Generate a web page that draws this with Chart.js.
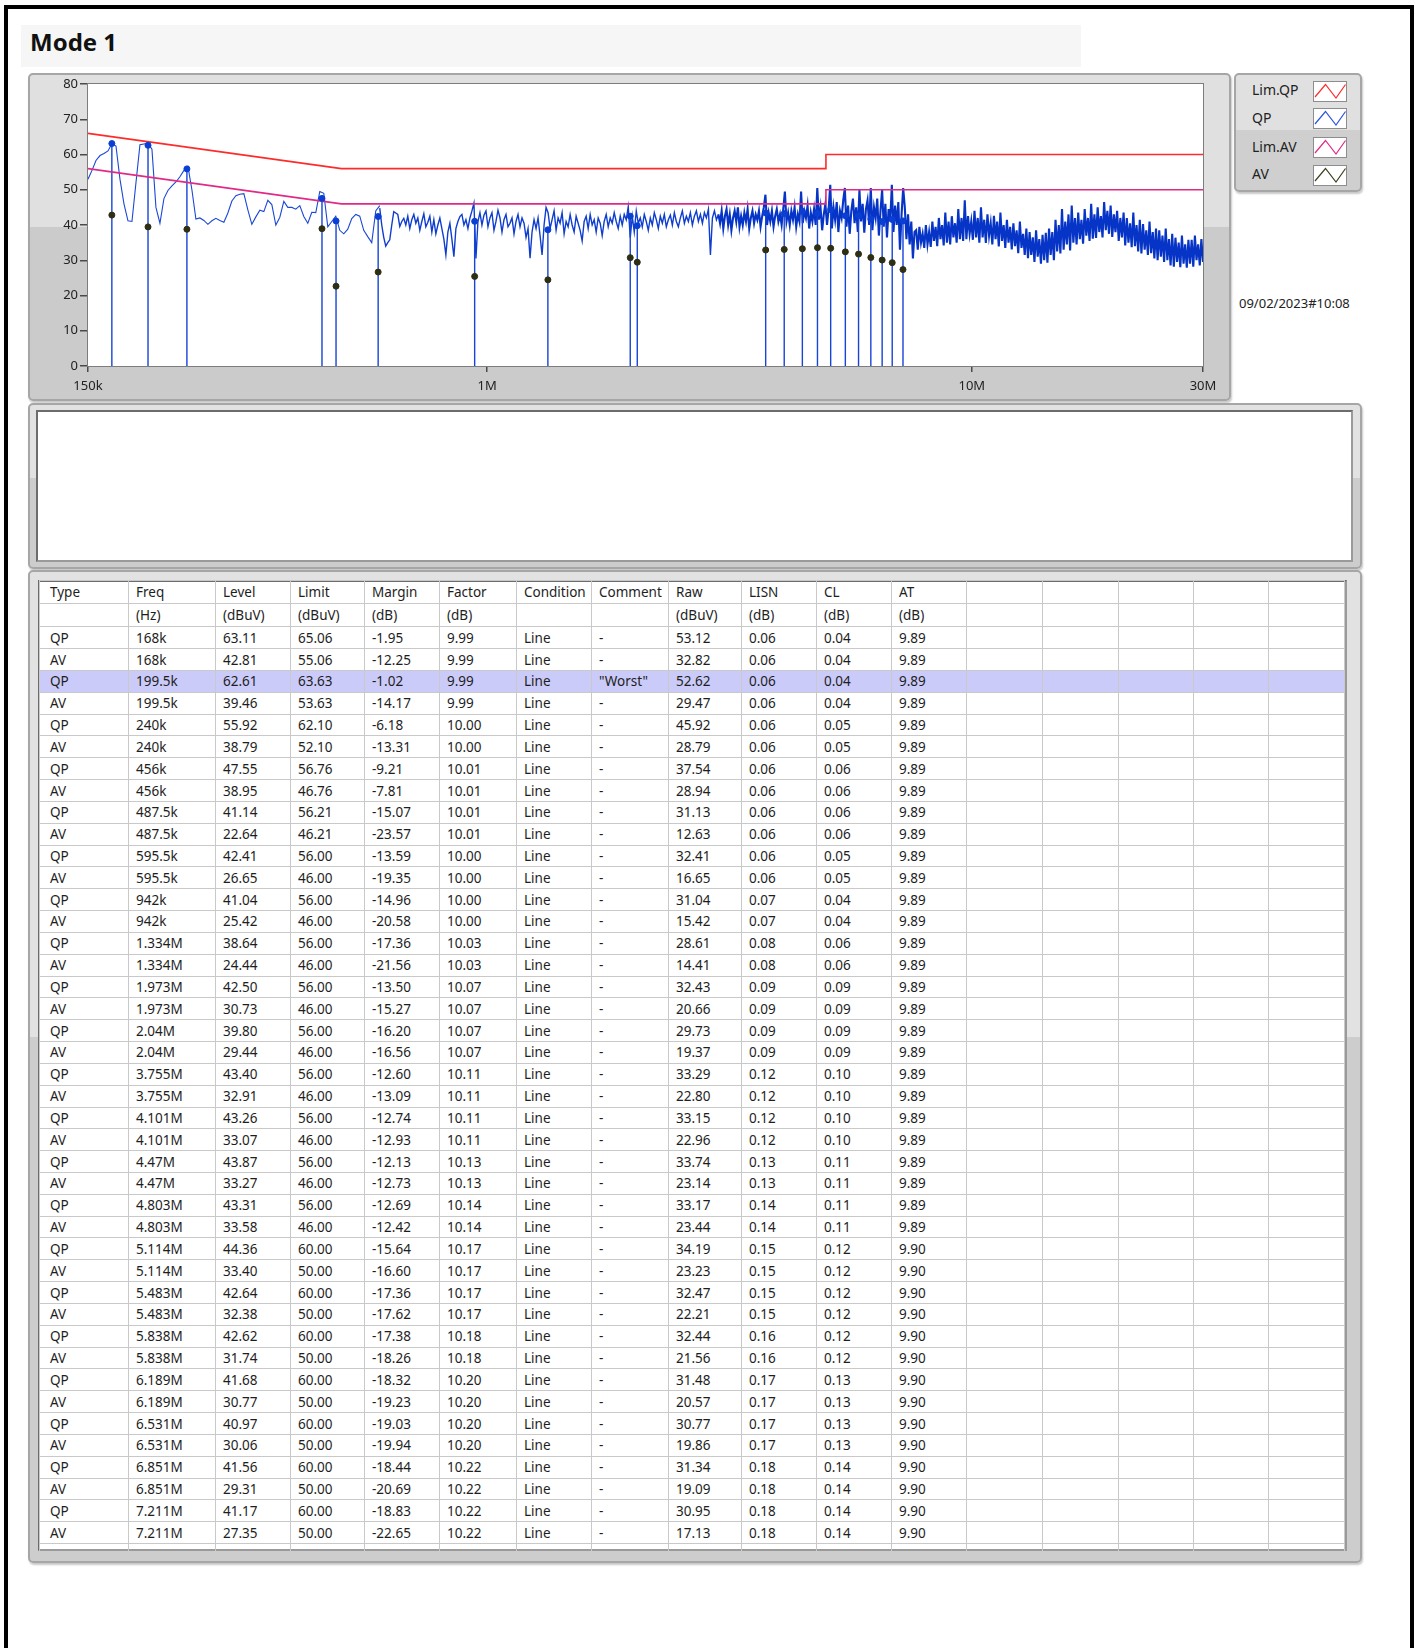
<!DOCTYPE html>
<html>
<head>
<meta charset="utf-8">
<script src="https://cdn.jsdelivr.net/npm/chart.js@4.4.1/dist/chart.umd.min.js"></script>
<style>
  html, body { margin: 0; padding: 0; background: #fff; }
  body { width: 1415px; height: 1648px; position: relative; overflow: hidden; font-family: "Noto Sans", "Open Sans", sans-serif; color: #1e1e1e; }
  .frame { position: absolute; left: 4px; top: 5px; width: 1402px; height: 1700px; border-left: 4px solid #000; border-top: 4px solid #000; border-right: 4px solid #000; }
  .titlebar { position: absolute; left: 21px; top: 25px; width: 1060px; height: 42px; background: #f6f6f6; }
  .title { position: absolute; left: 30px; top: 30px; font-size: 24px; line-height: 24px; font-weight: 700; color: #111; }
  .panel { position: absolute; box-sizing: border-box; border: 2px solid #a6a6a6; border-radius: 5px;
           box-shadow: 1px 2px 2px rgba(0,0,0,0.22); }
  .inset { position: absolute; box-sizing: border-box; background: #fff; border: 2px solid #6c6c6c; border-right-color: #9a9a9a; border-bottom-color: #9a9a9a; }
  #chartCanvas { position: absolute; left: 29px; top: 74px; }
  .legend-row { position: absolute; left: 1252px; font-size: 14px; line-height: 14px; color: #222; }
  .legend-icon { position: absolute; left: 1313px; width: 34px; height: 21px; }
  .stamp { position: absolute; left: 1239px; top: 295px; font-size: 13px; line-height: 16px; color: #222; }
  .tablebox { position: absolute; left: 38px; top: 580px; width: 1309px; height: 971px; overflow: hidden; }
  table { border-collapse: collapse; table-layout: fixed; font-size: 13.5px; color: #1e1e1e; }
  td { border: 1px solid #c9c9c9; padding: 0 0 0 7px; white-space: nowrap; overflow: hidden; vertical-align: middle; line-height: 14px; }
  td:first-child { padding-left: 10px; }
  tr.worst td { background: #cbcbf9; }
</style>
</head>
<body>
<div class="frame"></div>
<div class="titlebar"></div>
<div class="title">Mode 1</div>

<!-- spectrum panel -->
<div class="panel" style="left:28px; top:73px; width:1203px; height:328px; background: linear-gradient(#e0e0e0 0 47%, #cbcbcb 47% 100%);"></div>
<canvas id="chartCanvas" width="1201" height="326"></canvas>

<!-- legend panel -->
<div class="panel" id="legendPanel" style="left:1234px; top:73px; width:128px; height:119px; background: linear-gradient(#e0e0e0 0 48%, #cfcfcf 48% 100%);"></div>
<div id="legendItems"></div>
<div class="stamp" id="stamp"></div>

<!-- empty note panel -->
<div class="panel" style="left:28px; top:403px; width:1334px; height:166px; background: linear-gradient(#e2e2e2 0 45%, #cdcdcd 45% 100%);"></div>
<div class="inset" style="left:36px; top:410px; width:1317px; height:152px;"></div>

<!-- results table panel -->
<div class="panel" style="left:28px; top:570px; width:1334px; height:993px; background: linear-gradient(#e2e2e2 0 47%, #cdcdcd 47% 100%);"></div>
<div class="inset" style="left:38px; top:580px; width:1309px; height:971px;"></div>
<div class="tablebox"><table id="results"></table></div>

<script>
// ---- scan limits (CISPR class B, conducted) ----
const limitFreqHz = [150000, 500000, 5000000, 5000000, 30000000];
const limitQP = [66, 56, 56, 60, 60];
const limitAV = [56, 46, 46, 50, 50];

// ---- axis ticks ----
const xTickValues = [150000, 1000000, 10000000, 30000000];
const xTickLabels = ['150k', '1M', '10M', '30M'];
const yTickMin = 0, yTickMax = 80, yTickStep = 10;

// ---- peak scan, three sweep bands (start/stop Hz), levels in dBuV ----
const scanBandEdges = [150000, 600000, 3000000, 30000000];
const scanLowLevels = [
  53, 55.5, 58.3, 59.7, 60.3, 61, 63.1, 62.4, 53, 46,
  41.2, 41, 52, 62.8, 63, 63.2, 61.5, 45, 40.5, 47.5,
  49.8, 51.1, 52.2, 53.7, 55.5, 56.6, 50, 41.7, 42, 41.3,
  40.2, 41.2, 41.9, 41.3, 40.8, 43.4, 46.8, 48.3, 48.7, 48.9,
  44.3, 40.2, 42.3, 44.2, 43.8, 47, 45.8, 40, 42.2, 46.7,
  45, 45, 44.5, 45.5, 42.4, 40.5, 43.6, 43.5, 49.5, 49,
  39.5, 41, 42.5, 38.5, 37.5, 38.8, 41.8, 43, 42.5, 38.5,
  36.7, 35, 44, 45.5
];
const scanMidLevels = [
  44.8, 40, 36.5, 34, 35, 35.8, 40, 43.8,
  43.4, 43, 39.6, 41, 41.9, 40, 42.5, 39, 41.5, 43, 40.5, 42,
  38.5, 41, 43.2, 39.5, 40.8, 42.5, 38, 41.5, 37.5, 40, 42, 39, 36,
  31.5, 38, 40.5, 36, 31, 39, 41, 42.4,
  43, 40, 41.5, 39, 42, 44, 46.2,
  30.5, 41, 43.5, 40, 42.8, 44, 39.5, 42, 43.5, 38.5, 41, 44.2,
  42, 38, 41.5, 43, 39.5, 40.5, 42, 37.5, 41, 43, 39.5, 42, 40.5, 36.5, 39,
  30.6, 38, 41.5, 39, 42, 37, 31.5, 40, 45,
  43.5, 39, 41.5, 44, 38.5, 42, 40.5, 43.5, 37.5, 41, 39.5, 43, 40, 38, 42.5, 40.5,
  38.5, 35.5, 41, 42.5, 39, 43, 40, 41.5, 38, 42,
  40.5, 37, 41, 43, 39.5, 42, 40.5, 43.5, 41, 39, 42.5, 40, 43, 41.5, 45.2,
  36.4, 42.5, 38, 44, 40.5, 42, 39.5, 43, 41, 38.5, 42, 40, 43.5, 41.5, 39,
  42.5, 40.5, 43, 39.5, 41.5, 42.8, 40, 43.5, 41, 39.5, 42, 44, 40.5, 42.5, 41,
  43.5, 40, 42.5, 44, 41, 43, 40.5, 43.5, 42, 44.5, 31.5, 42, 44, 41.5, 43
];
const scanHighLevels = [
  43, 40.5, 44, 39, 42.5, 44.5, 40, 43, 38.5, 42, 44, 41, 45, 39.5, 42.5,
  40, 43.5, 41, 44.5, 39, 42, 44, 40.5, 43, 41.5, 44, 39.5, 42.5, 45, 48.6,
  40, 43.5, 41, 44, 39.5, 42.5, 44.5, 41, 43, 40, 44.5, 49.5, 41, 43.5,
  40, 44, 41.5, 45, 39.5, 43, 41, 49.5, 40.5, 44, 42, 45.5, 39, 43.5, 41, 44.5,
  40, 50.5, 41.5, 45, 38.5, 43, 46, 40, 44.5, 51.4, 39, 45, 41.5, 46.5, 38, 44,
  42, 47, 50.5, 39.5, 45.5, 37.5, 44, 47.5, 40.5, 45, 38, 50, 41, 46, 37.8, 44.5,
  47, 40, 50.5, 38.5, 45, 42, 47.5, 37, 44, 50, 39.5, 46, 36.5, 44.5, 41, 51.4,
  38, 45.5, 40, 46.5, 33, 43, 50.5,
  45, 36, 43, 34.5, 41, 30.5, 38,
  38.5, 33, 39.5, 35, 37.5, 33.5, 40, 34.5, 38, 33.8,
  41, 35.5, 39.5, 34, 42, 36, 40, 34.2, 43.5, 35,
  41, 34.5, 42.5, 36.5, 40.5, 35, 44.5, 36, 42, 35.5,
  47, 36, 42.5, 37.5, 41, 35.8, 44, 36.5, 42, 35,
  45, 36.5, 41.5, 34.9, 43, 37, 40.5, 34.5, 42.6, 36,
  41, 33.9, 43.5, 35.5, 40, 33.5, 41.5, 35, 39.5, 33.1,
  40.5, 34, 38.5, 32, 41, 33.5, 37.5, 31.5, 39, 30.6,
  38, 31.5, 36.5, 29.5, 38.5, 31, 36, 29, 37.2, 30,
  37.8, 29.3, 39, 31.5, 38, 30, 41.5, 32.5, 40, 31.9,
  44.5, 33, 41, 34.5, 43, 32.8, 45.5, 35, 42, 34.5,
  43.5, 36, 41.5, 34.7, 44.5, 37, 42, 35.5, 46, 36.1,
  43, 36.3, 45, 38, 42.5, 36.5, 46.5, 38.5, 44, 37.5,
  45.5, 36.6, 43, 38, 44, 35.5, 42, 36.5, 43.5, 34.2,
  42, 35, 40.5, 33.7, 43.5, 34, 40, 32.5, 41.5, 31.9,
  40.3, 33, 38.5, 31.5, 41, 32, 38, 30.5, 39, 30,
  38.5, 31, 37, 29.5, 39, 30, 36, 28.5, 37.5, 28.2,
  36.4, 29.5, 35, 28, 37, 29, 34.5, 27.9, 35.8, 29,
  35.8, 28.2, 37, 30, 34.5, 28.5, 36, 29.5
];

// ---- final measurements ----
const freqLabels = ['168k','199.5k','240k','456k','487.5k','595.5k','942k','1.334M','1.973M','2.04M','3.755M','4.101M','4.47M','4.803M','5.114M','5.483M','5.838M','6.189M','6.531M','6.851M','7.211M'];
const qpLevel  = [63.11,62.61,55.92,47.55,41.14,42.41,41.04,38.64,42.50,39.80,43.40,43.26,43.87,43.31,44.36,42.64,42.62,41.68,40.97,41.56,41.17];
const qpLimit  = [65.06,63.63,62.10,56.76,56.21,56.00,56.00,56.00,56.00,56.00,56.00,56.00,56.00,56.00,60.00,60.00,60.00,60.00,60.00,60.00,60.00];
const qpMargin = [-1.95,-1.02,-6.18,-9.21,-15.07,-13.59,-14.96,-17.36,-13.50,-16.20,-12.60,-12.74,-12.13,-12.69,-15.64,-17.36,-17.38,-18.32,-19.03,-18.44,-18.83];
const qpRaw    = [53.12,52.62,45.92,37.54,31.13,32.41,31.04,28.61,32.43,29.73,33.29,33.15,33.74,33.17,34.19,32.47,32.44,31.48,30.77,31.34,30.95];
const avLevel  = [42.81,39.46,38.79,38.95,22.64,26.65,25.42,24.44,30.73,29.44,32.91,33.07,33.27,33.58,33.40,32.38,31.74,30.77,30.06,29.31,27.35];
const avLimit  = [55.06,53.63,52.10,46.76,46.21,46.00,46.00,46.00,46.00,46.00,46.00,46.00,46.00,46.00,50.00,50.00,50.00,50.00,50.00,50.00,50.00];
const avMargin = [-12.25,-14.17,-13.31,-7.81,-23.57,-19.35,-20.58,-21.56,-15.27,-16.56,-13.09,-12.93,-12.73,-12.42,-16.60,-17.62,-18.26,-19.23,-19.94,-20.69,-22.65];
const avRaw    = [32.82,29.47,28.79,28.94,12.63,16.65,15.42,14.41,20.66,19.37,22.80,22.96,23.14,23.44,23.23,22.21,21.56,20.57,19.86,19.09,17.13];
const factor   = [9.99,9.99,10.00,10.01,10.01,10.00,10.00,10.03,10.07,10.07,10.11,10.11,10.13,10.14,10.17,10.17,10.18,10.20,10.20,10.22,10.22];
const lisn     = [0.06,0.06,0.06,0.06,0.06,0.06,0.07,0.08,0.09,0.09,0.12,0.12,0.13,0.14,0.15,0.15,0.16,0.17,0.17,0.18,0.18];
const cableLoss= [0.04,0.04,0.05,0.06,0.06,0.05,0.04,0.06,0.09,0.09,0.10,0.10,0.11,0.11,0.12,0.12,0.12,0.13,0.13,0.14,0.14];
const attenuator=[9.89,9.89,9.89,9.89,9.89,9.89,9.89,9.89,9.89,9.89,9.89,9.89,9.89,9.89,9.90,9.90,9.90,9.90,9.90,9.90,9.90];
const worstIndex = 1;

const legendNames = ['Lim.QP', 'QP', 'Lim.AV', 'AV'];
const legendColors = ['#ff2a2a', '#2a55e0', '#e02a86', '#3f4020'];
const stampText = '09/02/2023#10:08';

const headerNames = ['Type','Freq','Level','Limit','Margin','Factor','Condition','Comment','Raw','LISN','CL','AT'];
const headerUnits = ['','(Hz)','(dBuV)','(dBuV)','(dB)','(dB)','','','(dBuV)','(dB)','(dB)','(dB)'];

// ---------------------------------------------------------------
function parseFreq(label) {
  const mult = label.endsWith('M') ? 1e6 : 1e3;
  return parseFloat(label) * mult;
}
// receiver sweep: points evenly spaced in log frequency over a band
function sweep(fStart, fStop, levels) {
  const n = levels.length;
  return levels.map((v, i) => ({ x: fStart * Math.pow(fStop / fStart, i / (n - 1)), y: v }));
}

const scanLowPoints = sweep(scanBandEdges[0], scanBandEdges[1], scanLowLevels);
const scanMidPoints = sweep(scanBandEdges[1], scanBandEdges[2], scanMidLevels);
const scanHighPoints = sweep(scanBandEdges[2], scanBandEdges[3], scanHighLevels);
const markFreq = freqLabels.map(parseFreq);
const impulsePoints = [];
markFreq.forEach((f, i) => {
  impulsePoints.push({ x: f, y: 0 }, { x: f, y: qpLevel[i] }, { x: f, y: null });
});
const qpPoints = markFreq.map((f, i) => ({ x: f, y: qpLevel[i] }));
const avPoints = markFreq.map((f, i) => ({ x: f, y: avLevel[i] }));
const limQPPoints = limitFreqHz.map((f, i) => ({ x: f, y: limitQP[i] }));
const limAVPoints = limitFreqHz.map((f, i) => ({ x: f, y: limitAV[i] }));

const plotFrame = {
  id: 'plotFrame',
  beforeDatasetsDraw(chart) {
    const { ctx, chartArea: a } = chart;
    ctx.save();
    ctx.fillStyle = '#ffffff';
    ctx.fillRect(a.left, a.top, a.width, a.height);
    ctx.restore();
  },
  afterDraw(chart) {
    const { ctx, chartArea: a } = chart;
    ctx.save();
    ctx.strokeStyle = '#7d7d7d';
    ctx.lineWidth = 1;
    ctx.strokeRect(a.left - 0.5, a.top - 0.5, a.width + 1, a.height + 1);
    ctx.restore();
  }
};

const gridFont = { family: '"Noto Sans", "Open Sans", sans-serif', size: 13 };

new Chart(document.getElementById('chartCanvas').getContext('2d'), {
  type: 'line',
  data: {
    datasets: [
      { label: 'Lim.QP', data: limQPPoints, borderColor: legendColors[0], borderWidth: 1.6, pointRadius: 0, order: 3 },
      { label: 'Lim.AV', data: limAVPoints, borderColor: legendColors[2], borderWidth: 1.6, pointRadius: 0, order: 3 },
      { label: 'QP', data: scanLowPoints, borderColor: '#1a48d4', borderWidth: 1.1, pointRadius: 0, order: 6 },
      { label: 'QP', data: scanMidPoints, borderColor: '#0f3ece', borderWidth: 1.4, pointRadius: 0, order: 6 },
      { label: 'QP', data: scanHighPoints, borderColor: '#0634c6', borderWidth: 2.1, pointRadius: 0, order: 6 },
      { label: 'QP marks', data: impulsePoints, borderColor: '#1745d6', borderWidth: 1.4, pointRadius: 0, spanGaps: false, order: 4 },
      { label: 'QP final', type: 'scatter', data: qpPoints, showLine: false, pointRadius: 3, pointBackgroundColor: '#0b3fd4', pointBorderColor: '#0b3fd4', order: 2 },
      { label: 'AV final', type: 'scatter', data: avPoints, showLine: false, pointRadius: 3, pointBackgroundColor: '#2e2e12', pointBorderColor: '#2e2e12', order: 1 }
    ]
  },
  options: {
    responsive: false,
    animation: false,
    devicePixelRatio: 1,
    layout: { padding: { top: 10, right: 27, left: 0, bottom: 0 } },
    plugins: { legend: { display: false }, tooltip: { enabled: false } },
    elements: { line: { tension: 0 } },
    scales: {
      x: {
        type: 'logarithmic',
        min: xTickValues[0],
        max: xTickValues[xTickValues.length - 1],
        afterBuildTicks(axis) { axis.ticks = xTickValues.map(v => ({ value: v })); },
        afterFit(axis) { axis.height = 34; },
        ticks: {
          autoSkip: false, maxRotation: 0, padding: 6, color: '#222', font: gridFont,
          callback(value, index) { return xTickLabels[index]; }
        },
        grid: { color: '#dcdcdc', lineWidth: 1.5, tickColor: '#4a4a4a', tickLength: 6, drawTicks: true },
        border: { display: true, color: '#7d7d7d', width: 1 }
      },
      y: {
        min: yTickMin, max: yTickMax,
        afterFit(axis) { axis.width = 59; },
        ticks: { stepSize: yTickStep, padding: 2, color: '#222', font: gridFont },
        grid: { color: '#dcdcdc', lineWidth: 1.5, tickColor: '#4a4a4a', tickLength: 8, drawTicks: true },
        border: { display: true, color: '#7d7d7d', width: 1 }
      }
    }
  },
  plugins: [plotFrame]
});

// ---- legend ----
const legendTops = [83, 111, 140, 167];
const iconTops = [81, 108, 137, 165];
let legendHtml = '';
legendNames.forEach((name, i) => {
  legendHtml += '<div class="legend-row" style="top:' + legendTops[i] + 'px">' + name + '</div>';
  legendHtml += '<svg class="legend-icon" style="top:' + iconTops[i] + 'px" viewBox="0 0 34 21">' +
    '<rect x="0.5" y="0.5" width="33" height="20" fill="#fff" stroke="#8d8d8d"/>' +
    '<polyline points="2,16 12.5,3.5 23,17 32.5,3.5" fill="none" stroke="' + legendColors[i] + '" stroke-width="1.2"/></svg>';
});
document.getElementById('legendItems').innerHTML = legendHtml;
document.getElementById('stamp').textContent = stampText;

// ---- results table ----
const colWidths = [89, 87, 75, 74, 75, 77, 75, 77, 73, 75, 75, 75, 76, 76, 75, 75, 76];
const headerHeights = [23, 23.3];
const dataRowHeight = 21.83;
function cells(values) {
  let s = '';
  for (let c = 0; c < colWidths.length; c++) s += '<td>' + (values[c] !== undefined ? values[c] : '') + '</td>';
  return s;
}
let tbl = '<colgroup>' + colWidths.map(w => '<col style="width:' + w + 'px">').join('') + '</colgroup>';
tbl += '<tr style="height:' + headerHeights[0] + 'px">' + cells(headerNames) + '</tr>';
tbl += '<tr style="height:' + headerHeights[1] + 'px">' + cells(headerUnits) + '</tr>';
freqLabels.forEach((f, i) => {
  const qpRow = ['QP', f, qpLevel[i].toFixed(2), qpLimit[i].toFixed(2), qpMargin[i].toFixed(2), factor[i].toFixed(2),
    'Line', i === worstIndex ? '"Worst"' : '-', qpRaw[i].toFixed(2), lisn[i].toFixed(2), cableLoss[i].toFixed(2), attenuator[i].toFixed(2)];
  const avRow = ['AV', f, avLevel[i].toFixed(2), avLimit[i].toFixed(2), avMargin[i].toFixed(2), factor[i].toFixed(2),
    'Line', '-', avRaw[i].toFixed(2), lisn[i].toFixed(2), cableLoss[i].toFixed(2), attenuator[i].toFixed(2)];
  tbl += '<tr' + (i === worstIndex ? ' class="worst"' : '') + ' style="height:' + dataRowHeight + 'px">' + cells(qpRow) + '</tr>';
  tbl += '<tr style="height:' + dataRowHeight + 'px">' + cells(avRow) + '</tr>';
});
tbl += '<tr style="height:' + dataRowHeight + 'px">' + cells([]) + '</tr>';
const tableEl = document.getElementById('results');
tableEl.style.width = colWidths.reduce((a, b) => a + b, 0) + 'px';
tableEl.style.marginLeft = '1px';
tableEl.style.marginTop = '0px';
tableEl.innerHTML = tbl;
</script>
</body>
</html>
